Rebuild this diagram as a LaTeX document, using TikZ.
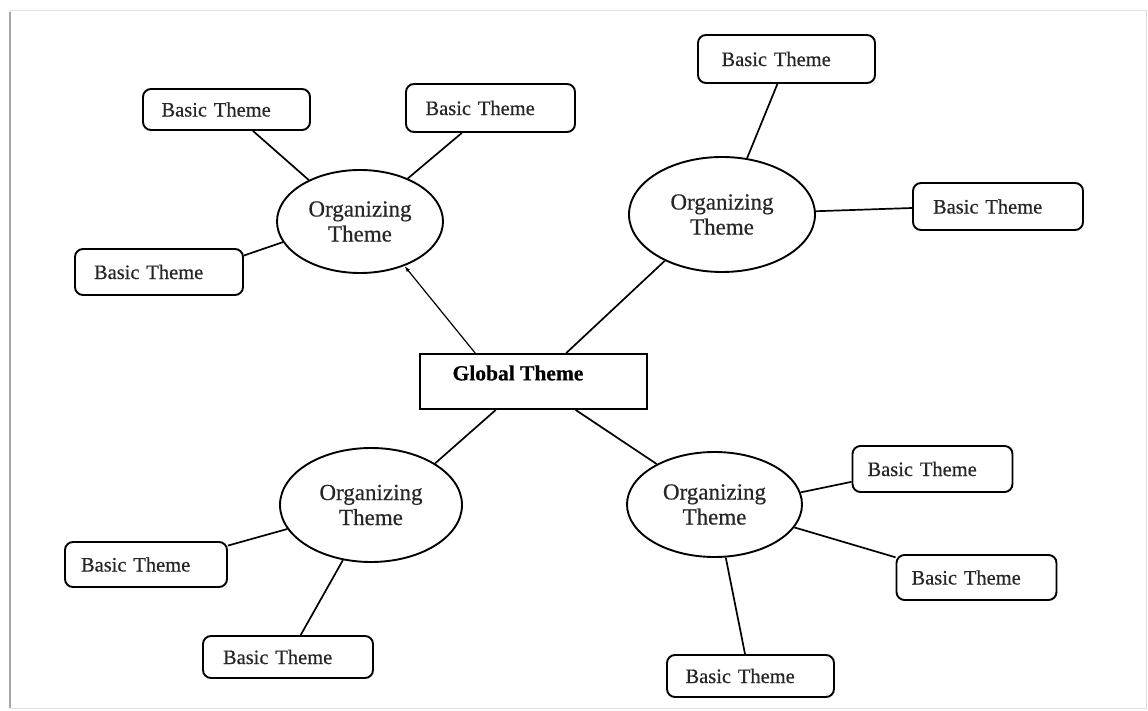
\documentclass[tikz,border=0pt]{standalone}
\usepackage{fontspec}
\setmainfont{Liberation Serif}[FakeBold=0.5]
\usetikzlibrary{shapes.geometric,arrows.meta}
\begin{document}
\begin{tikzpicture}[x=1pt,y=-1pt,
  basic/.style 2 args={draw, line width=1.9pt, rounded corners=8pt,
    text=black!85, font=\fontsize{20.5}{24}\selectfont, align=left, text width=130pt,
    inner xsep=0pt, inner ysep=0pt, minimum width=#1, minimum height=#2},
  orgt/.style 2 args={ellipse, draw, line width=1.9pt, minimum width=#1,
    minimum height=#2, inner sep=0pt, align=center, text=black!85,
    font=\fontsize{23}{25}\selectfont},
  globalbox/.style={draw, line width=1.9pt, minimum width=227pt,
    minimum height=55pt, inner sep=0pt},
  globaltext/.style={font=\bfseries\fontsize{21.5}{24}\selectfont, inner sep=0pt},
  conn/.style={line width=1.7pt},
  thinconn/.style={line width=1.2pt},
  framel/.style={draw=black!12, line width=0.8pt},
  shadowl/.style={draw=black!35, line width=2.5pt}]
\useasboundingbox (0,0) rectangle (1148,711);
% page frame
\coordinate (f1) at (10,10);
\coordinate (f2) at (1146,10);
\coordinate (f3) at (1146,708);
\coordinate (f4) at (10,708);
\draw[framel] (f4) -- (f1) -- (f2) -- (f3) -- cycle;
\draw[shadowl] ([yshift=-2pt]f1) -- (f4);

% global theme
\node[globalbox] (g) at (533.5,381.5) {};
\node[globaltext] (gt) at (518,373) {Global Theme};

% organizing themes
\node[orgt={166}{103}] (o1) at (360,221.5) {Organizing\\Theme};
\node[orgt={186}{115}] (o2) at (722,214.5) {Organizing\\Theme};
\node[orgt={182}{114}] (o3) at (371,505) {Organizing\\Theme};
\node[orgt={175}{105}] (o4) at (714.5,504.5) {Organizing\\Theme};

% basic themes
\node[basic={167}{41}] (tl1) at (226.5,109.5) {Basic Theme};
\node[basic={169}{48}] (tl2) at (490.5,108) {Basic Theme\\[6pt]};
\node[basic={168}{46}] (tl3) at (159,272) {Basic Theme};
\node[basic={177}{48}] (tr1) at (786.5,59) {Basic Theme\\[4pt]};
\node[basic={170}{47}] (tr2) at (998,206.5) {Basic Theme\\[2pt]};
\node[basic={162}{45}] (bl1) at (146,564.5) {Basic Theme\\[2pt]};
\node[basic={170}{42}] (bl2) at (288,657) {Basic Theme};
\node[basic={160}{46}] (br1) at (932.5,469) {Basic Theme\\[4pt]};
\node[basic={160}{45}] (br2) at (976.5,577.5) {Basic Theme};
\node[basic={167}{42}] (br3) at (750.5,676) {Basic Theme};

% connectors from global theme
\draw[thinconn,-{Latex[length=6pt,width=4pt]}] (g.154.8) -- (o1.315);
\draw[conn] (g.41.1) -- (o2.219.8);
\draw[conn] (g.217.8) -- (o3.33.7);
\draw[conn] (g.326.5) -- (o4.145.1);

% top-left cluster
\draw[conn] (o1.141.4) -- (tl1.321);
\draw[conn] (o1.42.2) -- (tl2.221.1);
\draw[conn] (o1.195.4) -- (tl3.11.4);

% top-right cluster
\draw[conn] (o2.66.1) -- (tr1.250.5);
\draw[conn] (o2.2.2) -- (tr2.181.7);

% bottom-left cluster
\draw[conn] (o3.196) -- (bl1.13.4);
\draw[conn] (o3.243.8) -- (bl2.60.5);

% bottom-right cluster
\draw[conn] (o4.8.8) -- (br1.189.3);
\draw[conn] (o4.344.7) -- (br2.166.2);
\draw[conn] (o4.282.4) -- (br3.104.7);
\end{tikzpicture}
\end{document}
